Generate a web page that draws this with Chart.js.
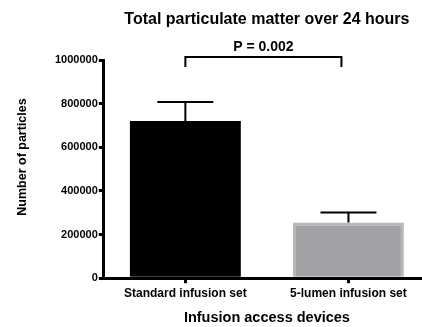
<!DOCTYPE html>
<html>
<head>
<meta charset="utf-8">
<script src="https://cdn.jsdelivr.net/npm/chart.js@4.4.0/dist/chart.umd.min.js"></script>
<style>
  html, body { margin: 0; padding: 0; background: #fff; overflow: hidden; }
  #wrap { width: 430px; height: 327px; }
</style>
</head>
<body>
<div id="wrap"><canvas id="chart"></canvas></div>
<script>
// datos
const categorias = ['Standard infusion set', '5-lumen infusion set'];
const particulas = [720000, 255000];
const desviacion = [88000, 46000];
const colores = ['#000000', '#a2a1a6'];
const bordes = ['#000000', '#b8b8b8'];
const yTicks = [0, 200000, 400000, 600000, 800000, 1000000];
const pValor = 'P = 0.002';

const fuente = 'Arial, "Liberation Sans", sans-serif';

// barras de error + corchete + titulos
const extras = {
    id: 'extras',
    afterDatasetsDraw(chart) {
        const ctx = chart.ctx;
        const x = chart.scales.x;
        const y = chart.scales.y;
        const area = chart.chartArea;
        ctx.save();
        ctx.strokeStyle = '#000';
        ctx.lineWidth = 2;
        particulas.forEach(function(v, i) {
            const cx = x.getPixelForValue(i);
            const y0 = y.getPixelForValue(v);
            const y1 = y.getPixelForValue(v + desviacion[i]);
            ctx.beginPath();
            ctx.moveTo(cx, y0);
            ctx.lineTo(cx, y1);
            ctx.moveTo(cx - 28, y1);
            ctx.lineTo(cx + 28, y1);
            ctx.stroke();
        });

        // corchete
        const xa = x.getPixelForValue(0);
        const xb = x.getPixelForValue(1) - 7;
        const yb = y.getPixelForValue(1000000) - 3;
        ctx.beginPath();
        ctx.moveTo(xa, yb + 10);
        ctx.lineTo(xa, yb);
        ctx.lineTo(xb, yb);
        ctx.lineTo(xb, yb + 10);
        ctx.stroke();

        ctx.fillStyle = '#000';
        ctx.textAlign = 'center';
        ctx.textBaseline = 'middle';
        ctx.font = 'bold 14px ' + fuente;
        ctx.fillText(pValor, (xa + xb) / 2, yb - 10);

        ctx.font = 'bold 16px ' + fuente;
        ctx.fillText('Total particulate matter over 24 hours', (area.left + area.right) / 2, 20);

        ctx.translate(23, 157);
        ctx.rotate(-Math.PI / 2);
        ctx.font = 'bold 12.5px ' + fuente;
        ctx.fillText('Number of particles', 0, 0);
        ctx.restore();
    }
};

new Chart(document.getElementById('chart'), {
    type: 'bar',
    data: {
        labels: categorias,
        datasets: [{
            data: particulas,
            backgroundColor: colores,
            borderColor: bordes,
            borderWidth: [0, 3],
            borderSkipped: 'bottom',
            barPercentage: 0.68,
            categoryPercentage: 1
        }]
    },
    options: {
        responsive: true,
        maintainAspectRatio: false,
        animation: false,
        layout: { padding: { top: 60, left: 54, right: 0, bottom: 0 } },
        plugins: {
            legend: { display: false },
            tooltip: { enabled: false }
        },
        scales: {
            x: {
                offset: true,
                grid: { offset: false, drawOnChartArea: false, drawTicks: true, tickLength: 5, color: '#000', lineWidth: 3 },
                border: { color: '#000', width: 3 },
                ticks: { color: '#000', font: { family: fuente, size: 12, weight: 'bold' }, padding: 3, maxRotation: 0 },
                title: { display: true, text: 'Infusion access devices', color: '#000', font: { family: fuente, size: 14.5, weight: 'bold' }, padding: { top: 6, bottom: 0 } }
            },
            y: {
                min: 0,
                max: 1000000,
                afterBuildTicks(axis) { axis.ticks = yTicks.map(function(v) { return { value: v }; }); },
                grid: { drawOnChartArea: false, drawTicks: true, tickLength: 5, color: '#000', lineWidth: 3 },
                border: { color: '#000', width: 3 },
                ticks: { color: '#000', font: { family: fuente, size: 11, weight: 'bold' }, padding: 1, callback: function(v) { return String(v); } }
            }
        }
    },
    plugins: [extras]
});
</script>
</body>
</html>
